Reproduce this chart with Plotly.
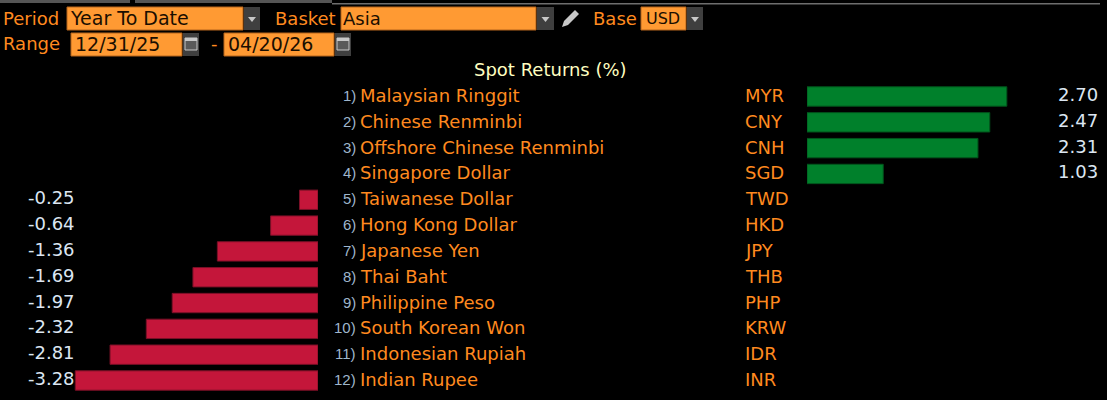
import plotly.graph_objects as go

W, H = 1107, 400

ranks = ["%d)" % i for i in range(1, 13)]
names = ["Malaysian Ringgit", "Chinese Renminbi", "Offshore Chinese Renminbi", "Singapore Dollar",
         "Taiwanese Dollar", "Hong Kong Dollar", "Japanese Yen", "Thai Baht",
         "Philippine Peso", "South Korean Won", "Indonesian Rupiah", "Indian Rupee"]
codes = ["MYR", "CNY", "CNH", "SGD", "TWD", "HKD", "JPY", "THB", "PHP", "KRW", "IDR", "INR"]
returns = [2.70, 2.47, 2.31, 1.03, -0.25, -0.64, -1.36, -1.69, -1.97, -2.32, -2.81, -3.28]

FONT = "DejaVu Sans"
NARROW = "Liberation Sans Narrow, Liberation Sans"
ORANGE = "#FF8A1F"
FIELD = "#FF9A33"
FIELD_EDGE = "#B5651D"
BUTTON = "#3F3F3F"
ICON = "#C8C8C8"
DARK = "#1A0E00"
PAD = 2  # annotations keep a small inner padding, pull text back by that much


def px(x):
    return x / W


def py(y):
    return 1 - y / H


def box(x0, y0, x1, y1, fill, line=None):
    return dict(type="rect", xref="paper", yref="paper", x0=px(x0), x1=px(x1), y0=py(y0), y1=py(y1),
                fillcolor=fill, line=dict(color=line or fill, width=1 if line else 0), layer="below")


def label(x, y, text, color=ORANGE, size=18, anchor="left"):
    return dict(xref="paper", yref="paper", x=px(x - PAD), y=py(y), text=text, showarrow=False,
                xanchor=anchor, yanchor="middle", font=dict(family=FONT, size=size, color=color))


def dropdown(x0, y0, x1, y1):
    mid = (x0 + x1) / 2
    return [box(x0, y0, x1, y1, BUTTON),
            dict(type="path", xref="paper", yref="paper", line=dict(width=0), fillcolor=ICON,
                 path="M %f %f L %f %f L %f %f Z" % (px(mid - 4), py(17), px(mid + 4), py(17), px(mid), py(22)))]


def calendar(x0, y0, x1, y1):
    mid = (x0 + x1) / 2
    return [box(x0, y0, x1, y1, BUTTON),
            box(mid - 6, y0 + 5, mid + 6, y1 - 6, "#5A5A5A", ICON),
            box(mid - 6, y0 + 5, mid + 6, y0 + 8, ICON)]


# negative and positive bars sit on separate axes, same scale either side of the text columns
neg = [v if v < 0 else None for v in returns]
pos = [v if v > 0 else None for v in returns]

fig = go.Figure()
fig.add_trace(go.Bar(y=codes, x=neg, orientation="h", width=0.75, xaxis="x", yaxis="y",
                     marker=dict(color="#C4163A", line=dict(color="#7A1027", width=1))))
fig.add_trace(go.Bar(y=codes, x=pos, orientation="h", width=0.75, xaxis="x2", yaxis="y",
                     marker=dict(color="#00802B", line=dict(color="#00541C", width=1))))

shapes = [
    box(0, 0, 130, 3, "#555555"),
    box(135, 0, 332, 3, "#555555"),
    box(332, 3, 1100, 4.5, "#6E6E6E"),
    box(67, 7, 243, 30, FIELD, FIELD_EDGE),
    box(341, 7, 536, 30, FIELD, FIELD_EDGE),
    box(641, 7, 686, 30, FIELD, FIELD_EDGE),
    box(71, 33, 182, 56, FIELD, FIELD_EDGE),
    box(224, 33, 334, 56, FIELD, FIELD_EDGE),
    dict(type="path", xref="paper", yref="paper", line=dict(width=0), fillcolor=ICON,
         path="M %f %f L %f %f L %f %f L %f %f L %f %f L %f %f Z" % (
             px(562), py(27), px(564), py(21), px(575), py(10), px(579), py(14),
             px(568), py(25), px(562), py(27))),
]
shapes += dropdown(244, 7, 260, 30) + dropdown(537, 7, 554, 30) + dropdown(687, 7, 703, 30)
shapes += calendar(183, 33, 199, 56) + calendar(335, 33, 351, 56)

annotations = [
    label(3, 18, "Period"),
    label(70, 18, "Year To Date", DARK, 19),
    label(275, 18, "Basket"),
    label(343, 18, "Asia", DARK),
    label(593, 18, "Base"),
    label(646, 18, "USD", DARK, 16),
    label(3, 44, "Range"),
    label(75, 44, "12/31/25", DARK, 19),
    label(211, 44, "-"),
    label(228, 44, "04/20/26", DARK, 19),
    label(552, 69, "Spot Returns (%)", "#FFFFC0", 18, "center"),
]
for rank, name, code, value in zip(ranks, names, codes, returns):
    for x, text, color, anchor, size, family in [(358, rank, "#9FB6CC", "right", 15, NARROW),
                                                 (358, name, ORANGE, "left", 18, FONT),
                                                 (743, code, ORANGE, "left", 18, FONT)]:
        annotations.append(dict(xref="paper", yref="y", x=px(x), y=code, text=text, showarrow=False,
                                xanchor=anchor, yanchor="middle", yshift=1,
                                font=dict(family=family, size=size, color=color)))
    annotations.append(dict(xref="paper", yref="y", x=px(1100 if value > 0 else 77), y=code,
                            text="%.2f" % value, showarrow=False, xanchor="right", yanchor="middle", yshift=2,
                            font=dict(family=FONT, size=18, color="#DCE6F2")))

fig.update_layout(
    width=W, height=H,
    margin=dict(l=0, r=0, t=0, b=0),
    paper_bgcolor="black", plot_bgcolor="black",
    showlegend=False,
    shapes=shapes,
    annotations=annotations,
    xaxis=dict(domain=[0, 318 / W], range=[-4.297, 0], visible=False),
    xaxis2=dict(domain=[807 / W, 1], range=[0, 4.054], visible=False, anchor="y"),
    yaxis=dict(domain=[0, 1], range=[11.755, -3.737], visible=False,
               categoryorder="array", categoryarray=codes),
)

fig.write_html("out.html", config={"displayModeBar": False},
               post_script="document.body.style.margin='0';document.body.style.background='black';")
